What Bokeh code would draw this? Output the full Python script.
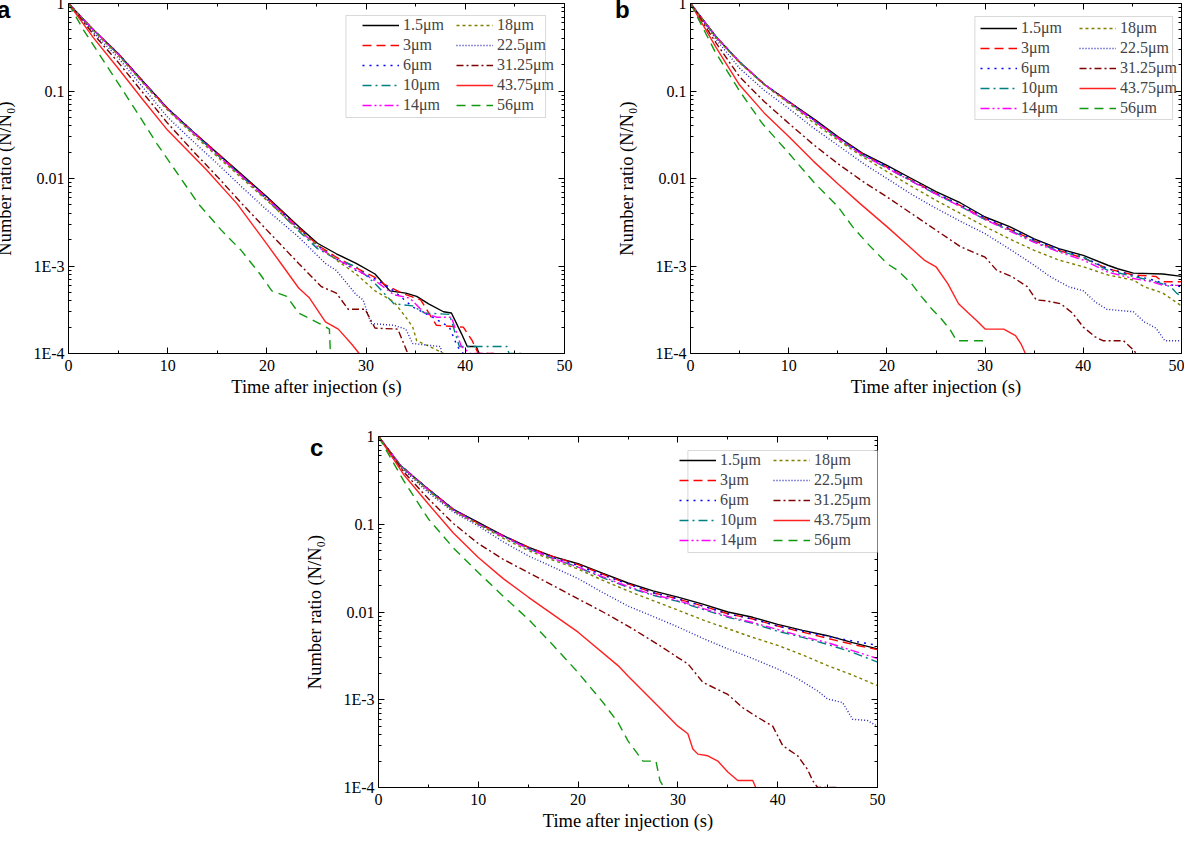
from bokeh.plotting import figure
from bokeh.models import (Range1d, FixedTicker, LinearAxis, LogAxis, Legend, LegendItem,
                          Spacer, BoxAnnotation, Div)
from bokeh.layouts import row, column
from bokeh.embed import file_html
from bokeh.resources import INLINE

# ---------------- legend / style definitions ----------------
SIZES = ["1.5\u03bcm", "3\u03bcm", "6\u03bcm", "10\u03bcm", "14\u03bcm",
         "18\u03bcm", "22.5\u03bcm", "31.25\u03bcm", "43.75\u03bcm", "56\u03bcm"]
COLORS = ["#000000", "#FF0000", "#0000FF", "#008080", "#FF00FF",
          "#808000", "#2525B5", "#800000", "#FF2020", "#119911"]
DASHES = ["solid", "9 5", "2 5", "9 4 2 4", "9 3 2 3 2 3",
          "3 3", "1 2", "7 3 2 3", "solid", "9 6"]

X_TICKS = [0, 10, 20, 30, 40, 50]
X_MINOR = [5, 15, 25, 35, 45]
Y_TICKS = [1, 0.1, 0.01, 0.001, 0.0001]
Y_TICK_LABELS = ["1", "0.1", "0.01", "1E-3", "1E-4"]
X_TITLE = "Time after injection (s)"
Y_TITLE = "Number ratio (N/N\u2080)"
PANEL_LETTERS = ["a", "b", "c"]

# ---------------- panel a ----------------
A_T_1P5 = [0, 2.5, 5, 7.5, 10, 12.5, 15, 17.5, 20, 23.2, 25.1, 27, 29, 30.9, 32.4, 34, 35.1, 36.3, 37.8, 38.6, 39.6, 40.2, 41.1, 41.4]
A_Y_1P5 = [1, 0.501, 0.269, 0.129, 0.0631, 0.0347, 0.0195, 0.011, 0.00617, 0.00282, 0.00182, 0.00138, 0.00107, 8.1e-4, 5.2e-4, 4.9e-4, 4.5e-4, 3.7e-4, 3.0e-4, 2.9e-4, 1.7e-4, 1.2e-4, 1.2e-4, 1.0e-4]
A_T_3 = [0, 2.5, 5, 7.5, 10, 12.5, 15, 17.5, 20, 23.2, 25.1, 27, 29, 30.9, 31.7, 33.6, 35.5, 37.1, 39.8, 40.7, 41.3, 42.9]
A_Y_3 = [1, 0.501, 0.269, 0.129, 0.0631, 0.0347, 0.0195, 0.0107, 0.00603, 0.00275, 0.00174, 0.00126, 9.5e-4, 7.4e-4, 6.3e-4, 4.9e-4, 4.1e-4, 2.1e-4, 2.0e-4, 1.4e-4, 1.0e-4, 1.0e-4]
A_T_6 = [0, 2.5, 5, 7.5, 10, 12.5, 15, 17.5, 20, 23.2, 25.1, 27, 29, 30.9, 32.8, 34.7, 36.7, 38.4, 39.2, 39.8]
A_Y_6 = [1, 0.501, 0.269, 0.129, 0.0631, 0.0347, 0.0191, 0.0107, 0.00603, 0.00269, 0.0017, 0.0012, 8.9e-4, 7.1e-4, 5.2e-4, 3.4e-4, 2.6e-4, 2.0e-4, 1.2e-4, 1.0e-4]
A_T_10 = [0, 2.5, 5, 7.5, 10, 12.5, 15, 17.5, 20, 23.2, 25.1, 27, 29, 30.9, 32.8, 34.7, 35.9, 38.4, 38.8, 39.4, 44.2, 44.4, 45.9]
A_Y_10 = [1, 0.501, 0.263, 0.126, 0.0617, 0.0339, 0.0186, 0.0105, 0.00575, 0.00251, 0.00158, 0.0012, 9.8e-4, 6.3e-4, 3.7e-4, 3.5e-4, 2.9e-4, 2.8e-4, 2.0e-4, 1.2e-4, 1.2e-4, 1.0e-4, 1.0e-4]
A_T_14 = [0, 2.5, 5, 7.5, 10, 12.5, 15, 17.5, 20, 23.2, 25.1, 27, 29, 30.9, 32.8, 34.4, 35.9, 37.1, 38.6, 39, 39.6, 40.5, 42.9]
A_Y_14 = [1, 0.501, 0.263, 0.126, 0.0617, 0.0339, 0.0186, 0.0105, 0.00589, 0.00263, 0.00166, 0.0012, 9.1e-4, 6.8e-4, 4.7e-4, 4.3e-4, 2.9e-4, 2.6e-4, 2.6e-4, 1.9e-4, 1.2e-4, 1.0e-4, 1.0e-4]
A_T_18 = [0, 2.5, 5, 7.5, 10, 12.5, 15, 17.5, 20, 23.2, 27, 29, 30.9, 32.8, 34, 34.7, 35.1, 37.1, 37.8]
A_Y_18 = [1, 0.49, 0.257, 0.123, 0.0603, 0.0324, 0.0178, 0.01, 0.00562, 0.00257, 0.00117, 8.1e-4, 5.2e-4, 3.9e-4, 2.6e-4, 2.0e-4, 1.4e-4, 1.1e-4, 1.0e-4]
A_T_22 = [0, 2.5, 5, 7.5, 10, 12.5, 15, 17.5, 20, 23.2, 25.9, 27, 29, 29.7, 30.5, 32.8, 34, 34.7, 37.5, 37.6]
A_Y_22 = [1, 0.468, 0.24, 0.11, 0.0501, 0.0269, 0.0148, 0.00794, 0.00437, 0.00214, 0.00107, 8.9e-4, 4.7e-4, 4.1e-4, 2.2e-4, 2.1e-4, 1.9e-4, 1.3e-4, 1.2e-4, 1.0e-4]
A_T_31 = [0, 2.5, 5, 7.5, 10, 12.5, 15, 17.5, 20, 23.2, 25.5, 27, 28.2, 29.9, 30.9, 33.2, 34.2]
A_Y_31 = [1, 0.447, 0.214, 0.0955, 0.0427, 0.0209, 0.0105, 0.00513, 0.00257, 0.00107, 5.8e-4, 4.9e-4, 3.2e-4, 3.2e-4, 1.95e-4, 1.9e-4, 1.0e-4]
A_T_43 = [0, 2.5, 5, 7.5, 10, 13.9, 17, 20, 21.6, 23.2, 24.3, 25.9, 27.2, 28.6, 29.3]
A_Y_43 = [1, 0.407, 0.182, 0.0794, 0.0355, 0.0126, 0.00513, 0.00178, 0.001, 5.6e-4, 4.3e-4, 2.3e-4, 1.9e-4, 1.26e-4, 1.0e-4]
A_T_56 = [0, 1.5, 3.5, 5, 7, 8.9, 11.2, 13.1, 15.4, 17.4, 19.3, 20.5, 22, 23.2, 25.3, 26.3, 26.4]
A_Y_56 = [1, 0.501, 0.224, 0.123, 0.055, 0.0251, 0.0105, 0.00513, 0.00257, 0.00151, 8.1e-4, 5.2e-4, 4.5e-4, 2.9e-4, 2.2e-4, 1.9e-4, 1.0e-4]

# ---------------- panel b ----------------
B_T_1P5 = [0, 2.6, 5, 7.6, 10, 12.7, 15, 17.5, 20, 22.5, 25, 27.5, 30, 32.5, 35, 37.5, 40, 42.5, 43.5, 45.1, 48.1, 50]
B_Y_1P5 = [1, 0.417, 0.214, 0.117, 0.0759, 0.0468, 0.0302, 0.0195, 0.0141, 0.01, 0.00708, 0.00525, 0.00363, 0.00282, 0.00204, 0.00158, 0.00132, 0.00102, 9.3e-4, 8.3e-4, 8.1e-4, 7.6e-4]
B_T_3 = [0, 2.6, 5, 7.6, 10, 12.7, 15, 17.5, 20, 22.5, 25, 27.5, 30, 32.5, 35, 37.5, 40, 42.5, 45.1, 47.4, 48.1, 50]
B_Y_3 = [1, 0.417, 0.214, 0.117, 0.0759, 0.0457, 0.0295, 0.0191, 0.0135, 0.00955, 0.00676, 0.0049, 0.00347, 0.00263, 0.00195, 0.00151, 0.00123, 9.3e-4, 7.9e-4, 7.6e-4, 6.6e-4, 6.6e-4]
B_T_6 = [0, 2.6, 5, 7.6, 10, 12.7, 15, 17.5, 20, 22.5, 25, 27.5, 30, 32.5, 35, 37.5, 40, 42.5, 45.1, 47.4, 48.1, 50]
B_Y_6 = [1, 0.417, 0.214, 0.117, 0.0759, 0.0457, 0.0295, 0.0191, 0.0138, 0.00955, 0.00676, 0.00501, 0.00355, 0.00269, 0.002, 0.00155, 0.00126, 9.3e-4, 7.8e-4, 6.8e-4, 6.3e-4, 5.8e-4]
B_T_10 = [0, 2.6, 5, 7.6, 10, 12.7, 15, 17.5, 20, 22.5, 25, 27.5, 30, 32.5, 35, 37.5, 40, 42.5, 45.1, 47.4, 48.9, 49.5, 50]
B_Y_10 = [1, 0.417, 0.214, 0.117, 0.0741, 0.0447, 0.0288, 0.0186, 0.0132, 0.00933, 0.00661, 0.00479, 0.00339, 0.00257, 0.00191, 0.00148, 0.00126, 8.9e-4, 7.6e-4, 6.6e-4, 5.8e-4, 4.9e-4, 4.5e-4]
B_T_14 = [0, 2.6, 5, 7.6, 10, 12.7, 15, 17.5, 20, 22.5, 25, 27.5, 30, 32.5, 35, 37.5, 40, 42.5, 45.1, 47, 48.1, 50]
B_Y_14 = [1, 0.417, 0.214, 0.117, 0.0741, 0.0447, 0.0288, 0.0186, 0.0132, 0.00933, 0.00661, 0.00479, 0.00339, 0.00251, 0.00186, 0.00145, 0.00117, 8.5e-4, 7.2e-4, 6.6e-4, 6.0e-4, 6.0e-4]
B_T_18 = [0, 2.6, 5, 7.6, 10, 12.5, 15, 17.5, 20, 22.5, 25, 27.5, 30, 32.5, 35, 37.5, 40, 42.5, 45.1, 46.2, 48.1, 50]
B_Y_18 = [1, 0.407, 0.209, 0.115, 0.0724, 0.0437, 0.0275, 0.0178, 0.012, 0.00813, 0.00562, 0.00398, 0.00282, 0.00204, 0.00151, 0.00117, 9.8e-4, 7.9e-4, 6.9e-4, 5.8e-4, 4.9e-4, 3.5e-4]
B_T_22 = [0, 2.6, 5, 7.5, 10, 12.5, 15, 17.5, 20, 22.5, 25, 27.5, 30, 32.7, 35, 36.6, 38.5, 40, 41.2, 42.4, 45.1, 46.2, 47.4, 48.3, 50]
B_Y_22 = [1, 0.389, 0.182, 0.102, 0.0631, 0.038, 0.024, 0.0151, 0.01, 0.00661, 0.00457, 0.00324, 0.00234, 0.00151, 0.00102, 7.6e-4, 5.8e-4, 5.2e-4, 3.9e-4, 3.2e-4, 3.0e-4, 2.3e-4, 1.95e-4, 1.4e-4, 1.4e-4]
B_T_31 = [0, 2.6, 5, 7.5, 10, 12.5, 15, 17.5, 20, 22.5, 25, 27.5, 30, 31.2, 32.7, 34.3, 35.2, 36.2, 37.7, 38.9, 40, 41.2, 42, 44.1, 45.1, 45.4]
B_Y_31 = [1, 0.355, 0.145, 0.0759, 0.0427, 0.0245, 0.0148, 0.00933, 0.00617, 0.00398, 0.00257, 0.00166, 0.00126, 8.9e-4, 7.6e-4, 5.8e-4, 4.1e-4, 4.0e-4, 3.7e-4, 2.9e-4, 2.0e-4, 1.55e-4, 1.4e-4, 1.4e-4, 1.1e-4, 1.0e-4]
B_T_43 = [0, 2.6, 5, 7.5, 10, 12.5, 15, 17.3, 20, 22.3, 23.8, 25, 26.2, 27.3, 28.3, 29.1, 30, 31.9, 33.1, 33.7, 34.1]
B_Y_43 = [1, 0.316, 0.117, 0.0562, 0.0302, 0.0158, 0.00871, 0.00513, 0.00282, 0.00166, 0.00117, 9.8e-4, 6.3e-4, 3.7e-4, 2.9e-4, 2.4e-4, 1.9e-4, 1.9e-4, 1.6e-4, 1.26e-4, 1.0e-4]
B_T_56 = [0, 2.5, 5, 7.3, 10, 12.7, 15, 16.5, 18, 20, 21.1, 22.5, 23.5, 24.6, 25.4, 26.4, 27.1, 29.8, 30]
B_Y_56 = [1, 0.282, 0.1, 0.0427, 0.0195, 0.0087, 0.00479, 0.00282, 0.00182, 0.00107, 8.9e-4, 6.3e-4, 4.5e-4, 3.2e-4, 2.6e-4, 1.9e-4, 1.4e-4, 1.4e-4, 1.2e-4]

# ---------------- panel c ----------------
C_T_GRID = [0, 2.2, 5, 7.5, 10, 12.5, 15, 17.5, 20, 22.5, 25, 27.5, 30, 32.5, 35, 37.5, 40, 42.5, 45, 47.5, 50]
C_Y_1P5 = [1, 0.468, 0.251, 0.148, 0.105, 0.0741, 0.055, 0.0427, 0.0355, 0.0275, 0.0214, 0.0174, 0.0148, 0.0123, 0.01, 0.0087, 0.00724, 0.00617, 0.00537, 0.00447, 0.0038]
C_Y_3 = [1, 0.468, 0.251, 0.148, 0.102, 0.0741, 0.055, 0.0427, 0.0347, 0.0269, 0.0209, 0.0166, 0.0141, 0.0117, 0.00955, 0.00832, 0.00692, 0.00589, 0.00501, 0.00427, 0.00372]
C_Y_6 = [1, 0.468, 0.251, 0.148, 0.102, 0.0741, 0.0537, 0.0417, 0.0339, 0.0263, 0.0209, 0.0166, 0.0141, 0.0117, 0.00955, 0.00832, 0.00692, 0.00603, 0.00525, 0.00468, 0.00417]
C_Y_10 = [1, 0.468, 0.245, 0.145, 0.1, 0.0724, 0.0525, 0.0407, 0.0324, 0.0245, 0.0191, 0.0155, 0.0132, 0.0107, 0.00871, 0.00741, 0.00603, 0.00513, 0.00427, 0.00347, 0.00269]
C_Y_14 = [1, 0.468, 0.245, 0.145, 0.1, 0.0724, 0.0525, 0.0407, 0.0324, 0.0251, 0.0195, 0.0158, 0.0135, 0.011, 0.00891, 0.00759, 0.00631, 0.00525, 0.00447, 0.00363, 0.00295]
C_Y_18 = [1, 0.457, 0.24, 0.141, 0.1, 0.0692, 0.0501, 0.0389, 0.0309, 0.0229, 0.0174, 0.0135, 0.0105, 0.00813, 0.00646, 0.00513, 0.00417, 0.00324, 0.00245, 0.00191, 0.00145]
C_T_22 = [0, 2.2, 5, 7.5, 10, 12.5, 15, 17.5, 20, 22.5, 25, 27.5, 30, 32.5, 35, 37.5, 40, 42, 44, 45, 46.5, 47.5, 49, 50]
C_Y_22 = [1, 0.447, 0.229, 0.138, 0.0955, 0.0631, 0.0437, 0.0324, 0.024, 0.0166, 0.0117, 0.00891, 0.00676, 0.00501, 0.0038, 0.00295, 0.00224, 0.00174, 0.00126, 0.00102, 9.3e-4, 6.0e-4, 5.8e-4, 5.0e-4]
C_T_31 = [0, 2.5, 5, 7.5, 10, 12.5, 15, 17.5, 20, 22.5, 25, 28, 30, 31, 32.5, 35, 36.5, 38, 39.5, 40.5, 42, 43, 43.5, 44, 46]
C_Y_31 = [1, 0.398, 0.195, 0.102, 0.0603, 0.0398, 0.0282, 0.02, 0.0141, 0.01, 0.00692, 0.00427, 0.00302, 0.00257, 0.00158, 0.00115, 8.1e-4, 6.3e-4, 5.0e-4, 3.0e-4, 2.3e-4, 1.6e-4, 1.2e-4, 1.0e-4, 1.0e-4]
C_T_43 = [0, 2.5, 5, 7.5, 10, 12.5, 15, 17.5, 20, 24, 25, 28, 30, 31, 31.5, 32, 33, 34, 35, 36, 37.5, 37.8]
C_Y_43 = [1, 0.372, 0.17, 0.0794, 0.0417, 0.024, 0.0148, 0.00933, 0.00589, 0.00245, 0.00186, 8.5e-4, 5.0e-4, 4.1e-4, 2.75e-4, 2.4e-4, 2.3e-4, 2.0e-4, 1.5e-4, 1.2e-4, 1.2e-4, 1.0e-4]
C_T_56 = [0, 2.5, 5, 7.5, 10, 12.5, 15, 17.5, 20, 22.5, 24, 25, 26.5, 27.8, 28.2, 28.6]
C_Y_56 = [1, 0.316, 0.115, 0.0537, 0.0282, 0.0151, 0.0083, 0.00417, 0.00204, 9.3e-4, 5.5e-4, 3.4e-4, 2.0e-4, 2.0e-4, 1.2e-4, 1.0e-4]

A_SERIES = [(A_T_1P5, A_Y_1P5), (A_T_3, A_Y_3), (A_T_6, A_Y_6), (A_T_10, A_Y_10), (A_T_14, A_Y_14),
            (A_T_18, A_Y_18), (A_T_22, A_Y_22), (A_T_31, A_Y_31), (A_T_43, A_Y_43), (A_T_56, A_Y_56)]
B_SERIES = [(B_T_1P5, B_Y_1P5), (B_T_3, B_Y_3), (B_T_6, B_Y_6), (B_T_10, B_Y_10), (B_T_14, B_Y_14),
            (B_T_18, B_Y_18), (B_T_22, B_Y_22), (B_T_31, B_Y_31), (B_T_43, B_Y_43), (B_T_56, B_Y_56)]
C_SERIES = [(C_T_GRID, C_Y_1P5), (C_T_GRID, C_Y_3), (C_T_GRID, C_Y_6), (C_T_GRID, C_Y_10), (C_T_GRID, C_Y_14),
            (C_T_GRID, C_Y_18), (C_T_22, C_Y_22), (C_T_31, C_Y_31), (C_T_43, C_Y_43), (C_T_56, C_Y_56)]

Y_MINOR = [k * 10.0 ** e for e in (-4, -3, -2, -1) for k in range(2, 10)]
SERIF = "Liberation Serif"


def style_axis(ax, ticks, minor, show_labels):
    ax.ticker = FixedTicker(ticks=ticks, minor_ticks=minor)
    ax.axis_line_color = "black"
    ax.axis_line_width = 1
    ax.major_tick_line_color = "black"
    ax.minor_tick_line_color = "black"
    ax.major_tick_in = 6
    ax.major_tick_out = 0
    ax.minor_tick_in = 3
    ax.minor_tick_out = 0
    ax.major_label_text_font = SERIF
    ax.major_label_text_color = "black"
    ax.major_label_text_font_size = "16px"
    if not show_labels:
        ax.major_label_overrides = {t: "" for t in ticks}
        ax.major_label_text_font_size = "1px"
        ax.major_label_standoff = 0
    ax.axis_label_text_font = SERIF
    ax.axis_label_text_font_size = "18.5px"
    ax.axis_label_text_font_style = "normal"
    ax.axis_label_text_color = "black"


def make_legend(items, xy):
    return Legend(items=items, location=xy, orientation="vertical",
                  label_text_font=SERIF, label_text_font_size="16px",
                  glyph_width=37, glyph_height=18, label_height=18,
                  label_standoff=4, spacing=2, padding=0, margin=0,
                  border_line_color=None, background_fill_alpha=0.0)


def make_panel(series, width, height, borders, box, leg1_xy, leg2_x):
    bl, br, bt, bb = borders
    p = figure(width=width, height=height, x_range=Range1d(0, 50), y_range=Range1d(1e-4, 1),
               y_axis_type="log", output_backend="svg", toolbar_location=None,
               min_border_left=bl, min_border_right=br, min_border_top=bt, min_border_bottom=bb)
    p.xgrid.visible = False
    p.ygrid.visible = False
    p.outline_line_color = "black"
    p.background_fill_color = "white"
    p.border_fill_color = "white"
    p.add_layout(LinearAxis(), "above")
    p.add_layout(LogAxis(), "right")

    bottom = p.below[0]
    top = p.above[0]
    left = p.left[0]
    right = p.right[0]
    style_axis(bottom, X_TICKS, X_MINOR, True)
    style_axis(top, X_TICKS, X_MINOR, False)
    style_axis(left, Y_TICKS, Y_MINOR, True)
    style_axis(right, Y_TICKS, Y_MINOR, False)

    bottom.major_label_standoff = 6
    bottom.axis_label = X_TITLE
    bottom.axis_label_standoff = 3
    left.major_label_standoff = 4
    left.major_label_overrides = dict(zip(Y_TICKS, Y_TICK_LABELS))
    left.axis_label = Y_TITLE
    left.axis_label_standoff = 15

    items = []
    for (t, y), name, col, dash in zip(series, SIZES, COLORS, DASHES):
        r = p.line(t, y, line_color=col, line_dash=dash, line_width=1.4)
        items.append(LegendItem(label=name, renderers=[r]))

    # legend frame (box in data units: seconds / ratio)
    bx0, bx1, by0, by1 = box
    p.add_layout(BoxAnnotation(left=bx0, right=bx1, bottom=by0, top=by1,
                               fill_color="white", fill_alpha=1.0,
                               line_color="#808080", line_width=1))
    p.add_layout(make_legend(items[:5], leg1_xy), "center")
    p.add_layout(make_legend(items[5:], (leg2_x, leg1_xy[1])), "center")
    return p


def letter_div(ch, left, top):
    w = 30
    return Div(text=ch, width=w, height=36, margin=(top, -(w + left), 0, left),
               styles={"font-family": "Liberation Sans", "font-weight": "bold", "font-size": "24px",
                       "line-height": "30px", "color": "black", "overflow": "visible",
                       "position": "relative", "z-index": "5"})


# frame geometry: a/b frames 350 px tall (87.5 px per decade), c 351 px tall
pa = make_panel(A_SERIES, 622, 424, (75, 50, 11, 63),
                (27.97, 48.09, 10 ** (-114 / 87.5), 10 ** (-12 / 87.5)), (294, 239), 388)
pb = make_panel(B_SERIES, 570, 424, (75, 3, 11, 63),
                (28.96, 49.09, 10 ** (-116 / 87.5), 10 ** (-13 / 87.5)), (290, 236), 389)
pc = make_panel(C_SERIES, 595, 419, (75, 20, 20, 48),
                (31.0, 51.0, 10 ** (-116 / 87.75), 10 ** (-14 / 87.75)), (301, 238), 395)

div_a = letter_div(PANEL_LETTERS[0], 5, 3)
div_b = letter_div(PANEL_LETTERS[1], 1, 3)
div_c = letter_div(PANEL_LETTERS[2], 8, 17)

layout = column(row(div_a, pa, div_b, pb),
                row(Spacer(width=310, height=10), div_c, pc),
                margin=(-8, 0, -8, -8))

open("out.html", "w").write(file_html(layout, INLINE))
